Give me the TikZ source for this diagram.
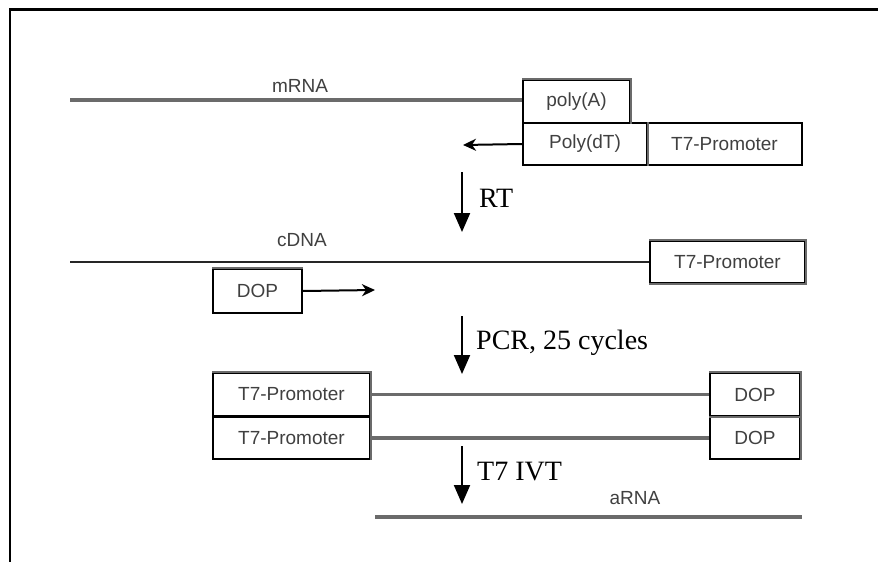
\documentclass[tikz,border=0pt]{standalone}
\usepackage{fontspec}
\setmainfont{Liberation Serif}
\newfontfamily\labelsans{Liberation Sans}
\usetikzlibrary{arrows.meta}
\definecolor{strandgray}{gray}{0.42}
\tikzset{
  x=1pt, y=-1pt,
  seqbox/.style={draw=black, line width=1.8pt, rectangle, inner sep=0pt,
    font=\labelsans\fontsize{19}{19}\selectfont, text=black!75},
  gedge/.style={draw=strandgray, line width=2pt},
  rna/.style={draw=strandgray, line width=3.2pt},
  dna/.style={draw=black!85, line width=2pt},
  seqlabel/.style={font=\labelsans\fontsize{19}{19}\selectfont, text=black!75, inner sep=0pt},
  steplabel/.style={font=\fontsize{28}{28}\selectfont, anchor=west, inner sep=0pt},
  steparrow/.style={line width=2pt, -{Triangle[length=19pt,width=16pt]}},
  primerarrow/.style={line width=2pt, -{Stealth[length=13pt,width=12pt,inset=4pt]}},
  frameline/.style={line width=2.5pt, black}
}
\begin{document}
\begin{tikzpicture}
\useasboundingbox (0,0) rectangle (878,562);
% frame
\draw[frameline] (10,562) -- (10,9.5) -- (878,9.5);

% --- mRNA row
\node[seqbox, minimum width=107pt, minimum height=43pt] (polyA) at (576.5,101.5) {poly(A)};
\node[seqbox, minimum width=124pt, minimum height=42pt] (polydT) at (585,144) {Poly(dT)};
\node[seqbox, minimum width=155pt, minimum height=42pt] (t7a) at (724.5,144) {T7-Promoter};
\draw[gedge] (polyA.north west) -- (polyA.north east) -- (polyA.south east);
\draw[gedge] (polydT.north east) -- (polydT.south east);
\coordinate (mstart) at (70,100);
\draw[rna] (mstart) -- (mstart -| polyA.west);
\node[seqlabel] (mrnalab) at (300,86) {mRNA};
\coordinate (rtend) at (463,145);
\draw[primerarrow] (polydT.west) -- (rtend);

% RT step
\coordinate (rt1) at (462,172);
\coordinate (rt2) at (462,232);
\draw[steparrow] (rt1) -- (rt2);
\node[steplabel] (rtlab) at (479,198) {RT};

% --- cDNA row
\node[seqlabel] (cdnalab) at (302,240) {cDNA};
\node[seqbox, minimum width=155pt, minimum height=42pt] (t7b) at (727.5,262) {T7-Promoter};
\draw[gedge] (t7b.north west) -- (t7b.north east) -- (t7b.south east) -- (t7b.south west);
\coordinate (cstart) at (70,262);
\draw[dna] (cstart) -- (t7b.west);
\node[seqbox, minimum width=89pt, minimum height=44pt] (dop1) at (257.5,291) {DOP};
\draw[gedge] (dop1.north west) -- (dop1.north east);
\coordinate (dopend) at (375,290);
\draw[primerarrow] (dop1.east) -- (dopend);

% PCR step
\coordinate (pcr1) at (462,316);
\coordinate (pcr2) at (462,374);
\draw[steparrow] (pcr1) -- (pcr2);
\node[steplabel] (pcrlab) at (476,343) {PCR, 25 cycles};

% --- PCR products
\node[seqbox, minimum width=157pt, minimum height=43pt] (t7c) at (291.5,394.5) {T7-Promoter};
\node[seqbox, minimum width=90pt, minimum height=43pt] (dop2) at (755,394.5) {DOP};
\node[seqbox, minimum width=157pt, minimum height=42pt] (t7d) at (291.5,438) {T7-Promoter};
\node[seqbox, minimum width=90pt, minimum height=42pt] (dop3) at (755,438) {DOP};
\draw[gedge] (t7c.north west) -- (t7c.north east) -- (t7c.south east);
\draw[gedge] (dop2.north west) -- (dop2.north east) -- (dop2.south east) -- (dop2.south west);
\draw[gedge] (t7d.north east) -- (t7d.south east);
\draw[gedge] (dop3.north east) -- (dop3.south east);
\draw[rna] (t7c.east) -- (dop2.west);
\draw[rna] (t7d.east) -- (dop3.west);

% IVT step
\coordinate (ivt1) at (462,446);
\coordinate (ivt2) at (462,504);
\draw[steparrow] (ivt1) -- (ivt2);
\node[steplabel] (ivtlab) at (477,472) {T7 IVT};

% --- aRNA
\node[seqlabel] (arnalab) at (635,498) {aRNA};
\coordinate (astart) at (375,517);
\coordinate (aend) at (802,517);
\draw[rna] (astart) -- (aend);
\end{tikzpicture}
\end{document}
